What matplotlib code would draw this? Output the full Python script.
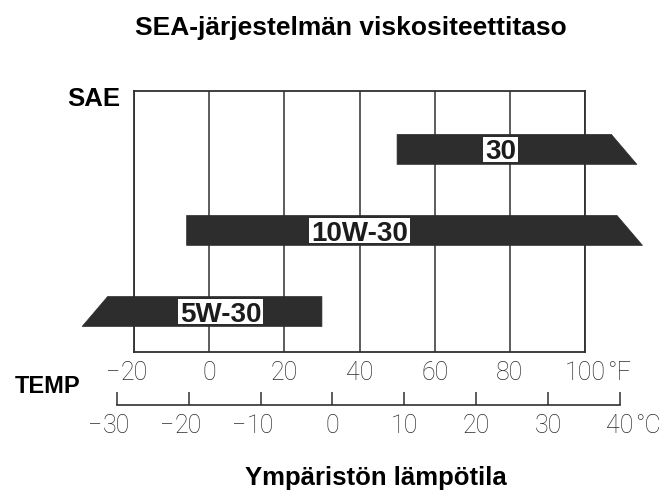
import matplotlib
matplotlib.use("Agg")
import matplotlib.pyplot as plt
from matplotlib.patches import Polygon, Rectangle
import matplotlib.transforms as mtransforms

# ---------------- data ----------------
grades = ["30", "10W-30", "5W-30"]
low_f = [50, -6, -27]          # lower temperature limit, °F
high_f = [107, 108.5, 30]      # upper temperature limit, °F
open_end = ["right", "right", "left"]
label_f = [77.5, 40, 3]        # where the grade label sits, °F
rows = [2, 1, 0]

f_ticks = [-20, 0, 20, 40, 60, 80, 100]
f_labels = ["−20", "0", "20", "40", "60", "80", "100"]
c_ticks = [-30, -20, -10, 0, 10, 20, 30, 40]
c_labels = ["−30", "−20", "−10", "0", "10", "20", "30", "40"]

title = "SEA-järjestelmän viskositeettitaso"
xlabel = "Ympäristön lämpötila"

# ---------------- layout helpers ----------------
W, H = 663, 492
fig = plt.figure(figsize=(W / 100, H / 100), dpi=100)
fig.patch.set_facecolor("white")


def fx(px):
    return px / W


def fy(py):
    return 1 - py / H


dark = "#2d2d2d"
line_c = "#303030"
tick_font = dict(family=["Roboto", "DejaVu Sans"], weight="light", fontsize=18, color="#2a2a2a")
bold_font = dict(family=["Liberation Sans", "DejaVu Sans"], weight="bold", color="black")

# ---------------- main grid axes (°F) ----------------
ax = fig.add_axes([fx(134), fy(352), fx(585) - fx(134), (352 - 91) / H])
ax.set_xlim(-20, 100)
ax.set_ylim(-0.5, 2.72)
ax.set_xticks(f_ticks)
ax.set_yticks([])
ax.tick_params(axis="x", length=0, labelbottom=False)
ax.grid(axis="x", color=line_c, lw=1.1)
ax.set_axisbelow(True)
for s in ax.spines.values():
    s.set_color(line_c)
    s.set_linewidth(1.3)

bar_h = 0.37
slant = 6.8
for g, lo, hi, oe, r in zip(grades, low_f, high_f, open_end, rows):
    y0, y1 = r - bar_h / 2, r + bar_h / 2
    if oe == "right":
        pts = [(lo, y0), (lo, y1), (hi, y1), (hi + slant, y0)]
    else:
        pts = [(lo - slant, y0), (lo, y1), (hi, y1), (hi, y0)]
    ax.add_patch(Polygon(pts, closed=True, facecolor=dark, edgecolor=dark,
                         lw=0.5, clip_on=False, zorder=3))

labels = []
for g, lx, r in zip(grades, label_f, rows):
    t = ax.annotate(g, xy=(lx, r), xycoords="data", xytext=(0, -7.3),
                    textcoords="offset points", ha="center", va="baseline",
                    fontsize=20, family=["Liberation Sans", "DejaVu Sans"],
                    weight="bold", color="#1c1c1c", zorder=7,
                    annotation_clip=False)
    labels.append((t, lx, r))

# ---------------- °F tick labels ----------------
trans_f = mtransforms.blended_transform_factory(ax.transData, fig.transFigure)
for t, lab in zip(f_ticks, f_labels):
    digits = lab.lstrip("−")
    half = len(digits) * 0.56 * 18 / 2
    ax.text(t, fy(380), digits, ha="center", va="baseline", transform=trans_f,
            clip_on=False, **tick_font)
    if lab.startswith("−"):
        ax.annotate("−", xy=(t, fy(380)), xycoords=trans_f, xytext=(-half, 0),
                    textcoords="offset points", ha="right", va="baseline",
                    annotation_clip=False, **tick_font)
    if t == f_ticks[-1]:
        ax.annotate("°F", xy=(t, fy(380)), xycoords=trans_f, xytext=(half + 1, 0),
                    textcoords="offset points", ha="left", va="baseline",
                    annotation_clip=False, **tick_font)

# ---------------- °C axis ----------------
axc = fig.add_axes([fx(116.7), fy(405), fx(620) - fx(116.7), 0.03])
axc.set_xlim(-30, 40)
axc.set_ylim(0, 1)
axc.patch.set_alpha(0)
for side in ["top", "left", "right"]:
    axc.spines[side].set_visible(False)
axc.spines["bottom"].set_color(line_c)
axc.spines["bottom"].set_linewidth(1.2)
axc.set_xticks(c_ticks)
axc.set_yticks([])
axc.tick_params(axis="x", direction="in", length=9.4, width=1.1, color=line_c,
                labelbottom=False)

trans_c = mtransforms.blended_transform_factory(axc.transData, fig.transFigure)
for t, lab in zip(c_ticks, c_labels):
    digits = lab.lstrip("−")
    half = len(digits) * 0.56 * 18 / 2
    axc.text(t, fy(433), digits, ha="center", va="baseline", transform=trans_c,
             clip_on=False, **tick_font)
    if lab.startswith("−"):
        axc.annotate("−", xy=(t, fy(433)), xycoords=trans_c, xytext=(-half, 0),
                     textcoords="offset points", ha="right", va="baseline",
                     annotation_clip=False, **tick_font)
    if t == c_ticks[-1]:
        axc.annotate("°C", xy=(t, fy(433)), xycoords=trans_c, xytext=(half + 1, 0),
                     textcoords="offset points", ha="left", va="baseline",
                     annotation_clip=False, **tick_font)

# ---------------- texts ----------------
fig.text(fx(350.5), fy(35), title, ha="center", va="baseline", fontsize=19, **bold_font)
fig.text(fx(67), fy(106), "SAE", ha="left", va="baseline", fontsize=18.5, **bold_font)
fig.text(fx(15), fy(393.3), "TEMP", ha="left", va="baseline", fontsize=17, **bold_font)
fig.text(fx(376), fy(485), xlabel, ha="center", va="baseline", fontsize=18.5, **bold_font)

# ---------------- white boxes behind grade labels ----------------
fig.canvas.draw()
renderer = fig.canvas.get_renderer()
inv = fig.transFigure.inverted()
for t, lx, r in labels:
    bb = t.get_window_extent(renderer)
    _, yc = ax.transData.transform((lx, r))
    x0, x1 = bb.x0 - 2, bb.x1 + 2
    y0, y1 = yc - 12.5, yc + 12.5
    (a0, b0), (a1, b1) = inv.transform([(x0, y0), (x1, y1)])
    rect = Rectangle((a0, b0), a1 - a0, b1 - b0, transform=fig.transFigure,
                     facecolor="white", edgecolor="none", zorder=6, clip_on=False)
    ax.add_patch(rect)

fig.savefig("out.png", dpi=100, facecolor="white")
